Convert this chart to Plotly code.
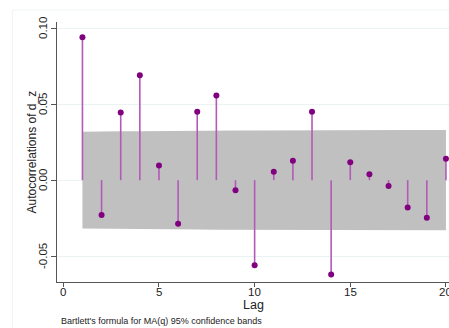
import plotly.graph_objects as go

lags = list(range(1, 21))
acf = [0.094, -0.023, 0.0445, 0.069, 0.0097, -0.0287, 0.045, 0.0557, -0.0066, -0.056,
       0.0055, 0.0127, 0.045, -0.062, 0.0118, 0.0039, -0.0039, -0.018, -0.0248, 0.014]
band = [0.0318, 0.0321, 0.0321, 0.0322, 0.0324, 0.0324, 0.0325, 0.0326, 0.0327, 0.0327,
        0.0328, 0.0328, 0.0328, 0.0329, 0.0329, 0.0330, 0.0330, 0.0330, 0.0330, 0.0330]
xticks = [0, 5, 10, 15, 20]
xtick_labels = ["0", "5", "10", "15", "20"]
yticks = [-0.05, 0.0, 0.05, 0.10]
ytick_labels = ["-0.05", "0.00", "0.05", "0.10"]

fig = go.Figure()

# confidence band
fig.add_trace(go.Scatter(
    x=lags + lags[::-1],
    y=band + [-b for b in band[::-1]],
    fill="toself", fillcolor="#c0c0c0", line=dict(width=0, color="#c0c0c0"),
    mode="lines", hoverinfo="skip", showlegend=False))

# stems
sx, sy = [], []
for l, v in zip(lags, acf):
    sx += [l, l, None]
    sy += [0, v, None]
fig.add_trace(go.Scatter(x=sx, y=sy, mode="lines",
                         line=dict(color="#b25ab8", width=1.6), showlegend=False))

# markers
fig.add_trace(go.Scatter(x=lags, y=acf, mode="markers",
                         marker=dict(color="#800080", size=6), showlegend=False))

font = "Liberation Sans, Arial, sans-serif"
tick_font = dict(size=11.5, color="#222", family=font)

annotations = []
for v, t in zip(xticks, xtick_labels):
    annotations.append(dict(text=t, xref="x", yref="paper", x=v, y=-0.039,
                            xanchor="center", yanchor="middle", showarrow=False,
                            font=tick_font))
for v, t in zip(yticks, ytick_labels):
    annotations.append(dict(text=t, xref="paper", yref="y", x=-0.036, y=v,
                            textangle=-90, xanchor="center", yanchor="middle",
                            showarrow=False, font=tick_font))
annotations += [
    dict(text="Lag", xref="paper", yref="paper", x=0.5, y=-0.088,
         xanchor="center", yanchor="middle", showarrow=False,
         font=dict(size=12.5, color="#222")),
    dict(text="Autocorrelations of d_z", xref="paper", yref="paper",
         x=-0.065, y=0.5, textangle=-90, xanchor="center", yanchor="middle",
         showarrow=False, font=dict(size=12, color="#222")),
    dict(text="Bartlett's formula for MA(q) 95% confidence bands",
         xref="paper", yref="paper", x=0.006, y=-0.123,
         xanchor="left", yanchor="top", showarrow=False,
         font=dict(size=9, color="#222")),
]

fig.update_layout(
    width=449, height=328,
    margin=dict(l=57, r=0, t=22, b=46, autoexpand=False),
    paper_bgcolor="white", plot_bgcolor="white",
    font=dict(family=font, size=12, color="#222"),
    xaxis=dict(range=[-0.33, 20.16], tickvals=xticks, ticks="outside", ticklen=4,
               tickcolor="#555", showline=True, linecolor="#555", linewidth=1,
               showgrid=False, zeroline=False, automargin=False,
               showticklabels=False),
    yaxis=dict(range=[-0.067, 0.104], tickvals=yticks,
               ticks="outside", ticklen=5, tickcolor="#555",
               showline=True, linecolor="#555", linewidth=1, automargin=False,
               showgrid=True, gridcolor="#eaf2f3", gridwidth=1, zeroline=False,
               showticklabels=False),
    annotations=annotations,
    shapes=[dict(type="rect", xref="paper", yref="paper",
                 x0=-0.114, x1=1.05, y0=1.046, y1=-0.3,
                 line=dict(color="#edf3f5", width=1), layer="below")],
)

fig.write_html("out.html", config={"displayModeBar": False},
               post_script="document.body.style.margin='0';document.body.style.overflow='hidden';")
